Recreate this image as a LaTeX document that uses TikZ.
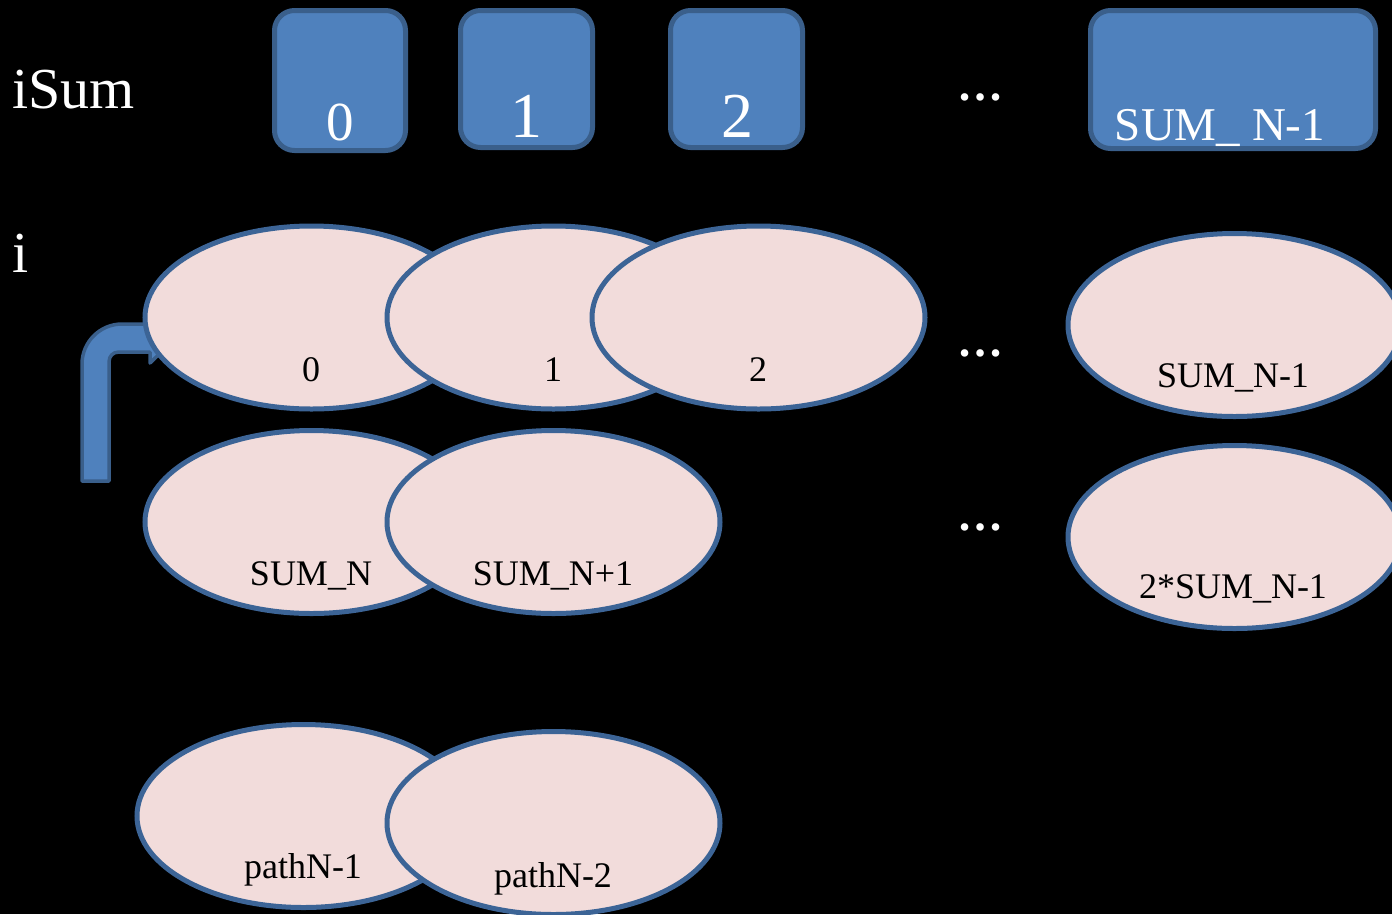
\documentclass[tikz,border=0pt]{standalone}
\usepackage{fontspec}
\setmainfont{Liberation Serif}
\usetikzlibrary{shapes.geometric}
\definecolor{boxfill}{HTML}{4F81BD}
\definecolor{boxline}{HTML}{3A5F8B}
\definecolor{ellfill}{HTML}{F2DCDB}
\definecolor{ellline}{HTML}{3C6496}
\tikzset{
  cell/.style={draw=boxline, fill=boxfill, line width=5pt, rounded corners=20pt, inner sep=0pt},
  oval/.style={ellipse, draw=ellline, fill=ellfill, line width=5pt, minimum width=333pt, minimum height=183pt, inner sep=0pt},
  celltxt/.style={anchor=base, inner sep=0pt, text=white},
  ovaltxt/.style={anchor=base, inner sep=0pt, text=black, font=\fontsize{36}{40}\selectfont},
  lbl/.style={anchor=base west, inner sep=0pt, text=white, font=\fontsize{58}{64}\selectfont},
  dots/.style={anchor=base, inner sep=0pt, text=white, font=\fontsize{46}{50}\selectfont\bfseries},
  bentarrow/.style={draw=boxline, fill=boxfill, line width=3.5pt, line join=round}
}
\begin{document}
\begin{tikzpicture}[x=1pt, y=-1pt]
\fill[black] (0,0) rectangle (1392,914);
\useasboundingbox (0,0) rectangle (1392,914);

% left labels
\node[lbl] (isum) at (12,108) {iSum};
\node[lbl] (ilbl) at (12,272) {i};

% top boxes
\node[cell, minimum width=131pt, minimum height=140pt] (b0) at (340,80.5) {};
\node[cell, minimum width=132pt, minimum height=137pt] (b1) at (526.5,79) {};
\node[cell, minimum width=132pt, minimum height=137pt] (b2) at (736.5,79) {};
\node[cell, minimum width=285pt, minimum height=138pt] (bn) at (1233,79.5) {};
\node[celltxt, font=\fontsize{55}{60}\selectfont] (tb0) at (340,140) {0};
\node[celltxt, font=\fontsize{64}{70}\selectfont] (tb1) at (526,137) {1};
\node[celltxt, font=\fontsize{64}{70}\selectfont] (tb2) at (737,137) {2};
\node[celltxt, font=\fontsize{47}{52}\selectfont] (tbn) at (1220,140) {SUM\_ N-1};
\node[dots] (d1) at (980,100) {…};

% bent arrow (behind ellipses)
\draw[bentarrow] (82,481) -- (82,364) .. controls (82,342) and (100,324) .. (122,324)
  -- (150,324) -- (150,313) -- (176,338) -- (150,363) -- (150,352) -- (119,352)
  .. controls (113,352) and (109,356) .. (109,362) -- (109,481) -- cycle;

% row 1
\node[oval] (e0) at (311.5,317.5) {};
\node[oval] (e1) at (553.5,317.5) {};
\node[oval] (e2) at (758.5,317.5) {};
\node[oval] (en) at (1234.5,325) {};
\node[ovaltxt] (te0) at (311,381) {0};
\node[ovaltxt] (te1) at (553,381) {1};
\node[ovaltxt] (te2) at (758,381) {2};
\node[ovaltxt] (ten) at (1233,387) {SUM\_N-1};
\node[dots] (d2) at (980,356) {…};

% row 2
\node[oval] (f0) at (311.5,522) {};
\node[oval] (f1) at (553.5,522) {};
\node[oval] (fn) at (1234.5,537) {};
\node[ovaltxt] (tf0) at (311,585) {SUM\_N};
\node[ovaltxt] (tf1) at (553,585) {SUM\_N+1};
\node[ovaltxt] (tfn) at (1233,598) {2*SUM\_N-1};
\node[dots] (d3) at (980,530) {…};

% row 3
\node[oval] (g0) at (303.5,816) {};
\node[oval] (g1) at (553.5,823) {};
\node[ovaltxt] (tg0) at (303,878) {pathN-1};
\node[ovaltxt] (tg1) at (553,887) {pathN-2};
\end{tikzpicture}
\end{document}
